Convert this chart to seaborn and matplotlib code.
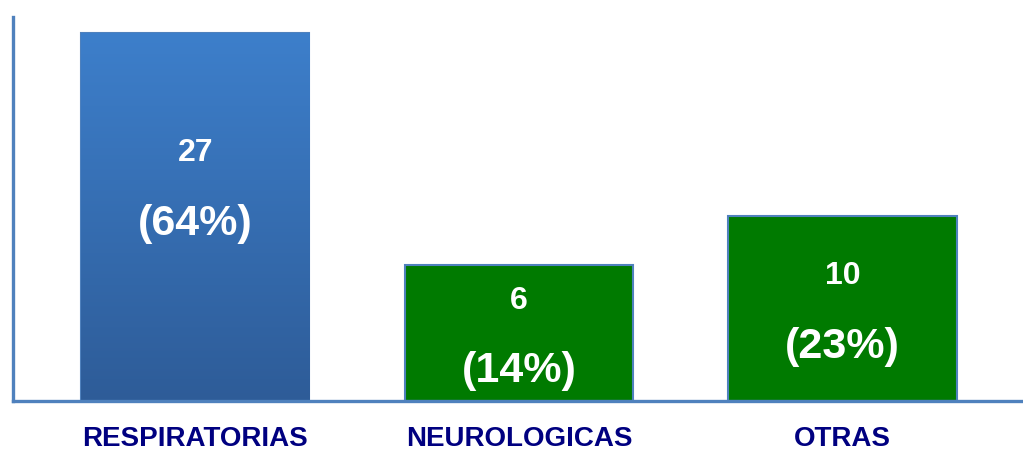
import matplotlib
matplotlib.use("Agg")
import matplotlib.pyplot as plt
import seaborn as sns
import numpy as np
import pandas as pd
from matplotlib.colors import LinearSegmentedColormap

# Data
categories = ["RESPIRATORIAS", "NEUROLOGICAS", "OTRAS"]
counts = [27, 6, 10]
pct_labels = ["(64%)", "(14%)", "(23%)"]
# the drawn bar heights are not proportional to the counts in the original
bar_heights = [27, 10.0, 13.6]

AXIS_BLUE = '#4F81BD'
GREEN = '#007A00'
NAVY = '#000080'


def main():
    sns.set_style("white")
    plt.rcParams['font.family'] = ['Liberation Sans', 'DejaVu Sans']

    df = pd.DataFrame({"cat": categories, "h": bar_heights})

    fig = plt.figure(figsize=(10.23, 4.52), dpi=100)
    ax = fig.add_axes([13 / 1023, 50 / 452, 1010 / 1023, 392 / 452])

    sns.barplot(data=df, x="cat", y="h", ax=ax, width=0.705,
                palette=["#3A7CC8", GREEN, GREEN], hue="cat", legend=False,
                edgecolor=AXIS_BLUE, linewidth=1.5, saturation=1)

    # gradient on the first bar
    bar = ax.patches[0]
    x0, y0 = bar.get_x(), bar.get_y()
    w, h = bar.get_width(), bar.get_height()
    cmap = LinearSegmentedColormap.from_list("blu", ["#2E5C98", "#3D7FCB"])
    grad = np.linspace(0, 1, 256).reshape(-1, 1)
    im = ax.imshow(grad, cmap=cmap, origin='lower', aspect='auto',
                   extent=[x0, x0 + w, y0, y0 + h], zorder=bar.get_zorder() + 0.1)
    im.set_clip_path(bar)
    ax.set_xlim(-0.564, 2.558)
    ax.set_ylim(0, 28.76)

    # value labels inside the bars
    offsets = [23, 0, 0]
    for i, p in enumerate(ax.patches[:3]):
        cx = p.get_x() + p.get_width() / 2
        cy = p.get_height() / 2
        ax.annotate(str(counts[i]), (cx, cy), xytext=(0, 24 + offsets[i]),
                    textcoords='offset points', ha='center', va='center',
                    color='white', fontsize=23, fontweight='bold', zorder=5)
        ax.annotate(pct_labels[i], (cx, cy), xytext=(0, -27 + offsets[i]),
                    textcoords='offset points', ha='center', va='center',
                    color='white', fontsize=31, fontweight='bold', zorder=5)

    ax.set_xlabel("")
    ax.set_ylabel("")
    ax.set_yticks([])
    ax.tick_params(axis='x', length=0, pad=17)
    for lab in ax.get_xticklabels():
        lab.set_color(NAVY)
        lab.set_fontweight('bold')
        lab.set_fontsize(20)

    sns.despine(ax=ax, top=True, right=True)
    for side in ['left', 'bottom']:
        ax.spines[side].set_color(AXIS_BLUE)
        ax.spines[side].set_linewidth(2.4)
    ax.spines['left'].set_bounds(0, 28.2)

    fig.savefig("out.png", dpi=100)


if __name__ == '__main__':
    main()
